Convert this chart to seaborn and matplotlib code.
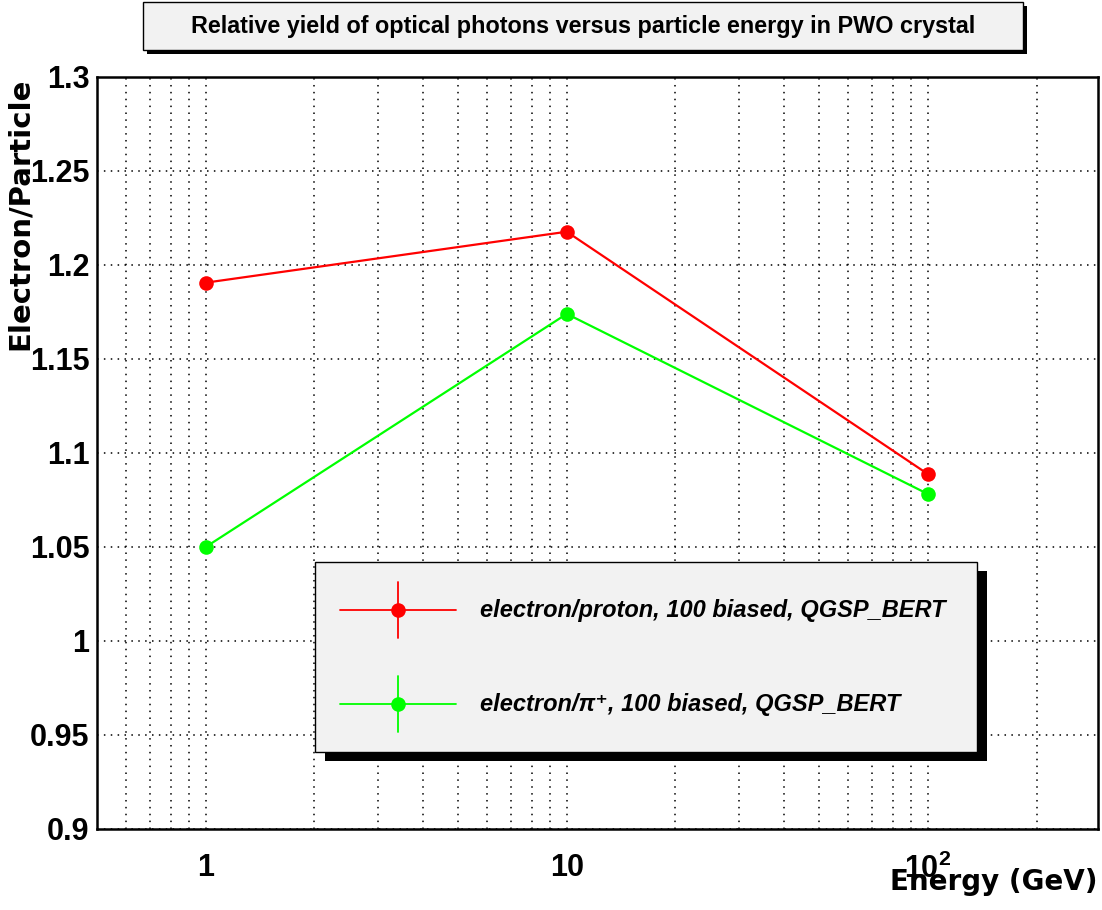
import numpy as np
import pandas as pd
import matplotlib
matplotlib.use("Agg")
import matplotlib.pyplot as plt
import matplotlib.ticker as mticker
from matplotlib.patches import Rectangle
from matplotlib.lines import Line2D
import seaborn as sns

# ---------------- data ----------------
energy_gev = [1, 10, 100]
ratio_e_proton = [1.1906, 1.2177, 1.0888]
ratio_e_pion = [1.0500, 1.1740, 1.0782]
series_names = ["electron/proton, 100 biased, QGSP_BERT",
                "electron/π⁺, 100 biased, QGSP_BERT"]
series_colors = ["#ff0000", "#00ff00"]
x_major_ticks = [1, 10, 100]
x_tick_labels = ["1", "10", "10$^{2}$"]
y_major_ticks = [0.9, 0.95, 1.0, 1.05, 1.1, 1.15, 1.2, 1.25, 1.3]
y_tick_labels = ["0.9", "0.95", "1", "1.05", "1.1", "1.15", "1.2", "1.25", "1.3"]
title_text = "Relative yield of optical photons versus particle energy in PWO crystal"
x_label = "Energy (GeV)"
y_label = "Electron/Particle"

df = pd.DataFrame({
    "energy": energy_gev * 2,
    "ratio": ratio_e_proton + ratio_e_pion,
    "series": [series_names[0]] * 3 + [series_names[1]] * 3,
})

# ---------------- style ----------------
sns.set_theme(style="white")
plt.rcParams["font.family"] = ["Liberation Sans", "DejaVu Sans"]
plt.rcParams["text.color"] = "black"
plt.rcParams["axes.labelcolor"] = "black"
plt.rcParams["xtick.color"] = "black"
plt.rcParams["ytick.color"] = "black"
plt.rcParams["mathtext.fontset"] = "custom"
plt.rcParams["mathtext.rm"] = "Liberation Sans:bold"
plt.rcParams["mathtext.bf"] = "Liberation Sans:bold"
plt.rcParams["mathtext.it"] = "Liberation Sans:bold:italic"

W, H = 1102, 910
fig = plt.figure(figsize=(W / 100, H / 100), dpi=100)
fig.patch.set_facecolor("white")

def fx(px):
    return px / W

def fy(py):
    return 1 - py / H

ax_l, ax_r, ax_t, ax_b = 97, 1098, 77, 829
ax = fig.add_axes([fx(ax_l), fy(ax_b), fx(ax_r - ax_l), (ax_b - ax_t) / H])
ax.set_facecolor("white")
ax.set_xscale("log")

sns.lineplot(data=df, x="energy", y="ratio", hue="series",
             palette=dict(zip(series_names, series_colors)),
             marker="o", markersize=10.5, markeredgewidth=0,
             linewidth=1.6, legend=False, ax=ax, zorder=3)

ax.set_xlim(0.5, 296)
ax.set_ylim(0.9, 1.3)

# ticks
ax.xaxis.set_major_locator(mticker.FixedLocator(x_major_ticks))
ax.xaxis.set_major_formatter(mticker.FixedFormatter(x_tick_labels))
ax.xaxis.set_minor_locator(mticker.LogLocator(base=10, subs=np.arange(2, 10), numticks=20))
ax.xaxis.set_minor_formatter(mticker.NullFormatter())
ax.yaxis.set_major_locator(mticker.FixedLocator(y_major_ticks))
ax.yaxis.set_major_formatter(mticker.FixedFormatter(y_tick_labels))
ax.yaxis.set_minor_locator(mticker.MultipleLocator(0.01))

ax.tick_params(axis="y", which="major", direction="in", length=20.5, width=1.1,
               pad=5.5, labelsize=22, colors="black")
ax.tick_params(axis="y", which="minor", direction="in", length=10.8, width=1.1,
               colors="black")
ax.tick_params(axis="x", which="major", direction="in", length=16.5, width=1.1,
               pad=17.5, labelsize=22, colors="black")
ax.tick_params(axis="x", which="minor", direction="in", length=8.3, width=1.1,
               colors="black")
for lab in ax.get_xticklabels() + ax.get_yticklabels():
    lab.set_fontweight("bold")
    lab.set_color("black")

ax.grid(which="both", axis="x", color="black", linestyle=(0, (1, 3.5)), linewidth=1.1)
ax.grid(which="major", axis="y", color="black", linestyle=(0, (1, 3.5)), linewidth=1.1)
ax.set_axisbelow(True)

for s in ax.spines.values():
    s.set_color("black")
    s.set_linewidth(1.8)
    s.set_visible(True)

ax.set_xlabel("")
ax.set_ylabel("")

# axis titles
fig.text(fx(1098), fy(890), x_label, ha="right", va="baseline", color="black",
         fontsize=20, fontweight="bold", family="DejaVu Sans")
fig.text(fx(6), fy(78), y_label, ha="left", va="top", rotation=90, color="black",
         fontsize=21, fontweight="bold", family="DejaVu Sans")

# title box with shadow
tb_l, tb_t, tb_r, tb_b = 143, 2, 1023, 50
fig.patches.append(Rectangle((fx(tb_l + 4), fy(tb_b + 4)), fx(tb_r - tb_l), (tb_b - tb_t) / H,
                             transform=fig.transFigure, facecolor="black",
                             edgecolor="none", zorder=5))
fig.patches.append(Rectangle((fx(tb_l), fy(tb_b)), fx(tb_r - tb_l), (tb_b - tb_t) / H,
                             transform=fig.transFigure, facecolor="#f2f2f2",
                             edgecolor="black", linewidth=1.0, zorder=6))
fig.text(fx((tb_l + tb_r) / 2), fy(26), title_text, ha="center", va="center",
         color="black", fontsize=16.8, fontweight="bold", zorder=7)

# legend box with shadow
lb_l, lb_t, lb_r, lb_b = 315, 562, 977, 752
fig.patches.append(Rectangle((fx(lb_l + 10), fy(lb_b + 9)), fx(lb_r - lb_l), (lb_b - lb_t) / H,
                             transform=fig.transFigure, facecolor="black",
                             edgecolor="none", zorder=5))
fig.patches.append(Rectangle((fx(lb_l), fy(lb_b)), fx(lb_r - lb_l), (lb_b - lb_t) / H,
                             transform=fig.transFigure, facecolor="#f2f2f2",
                             edgecolor="black", linewidth=1.0, zorder=6))
for name, col, yc in zip(series_names, series_colors, [610, 704]):
    fig.lines.append(Line2D([fx(340), fx(456)], [fy(yc), fy(yc)], transform=fig.transFigure,
                            color=col, linewidth=1.3, zorder=7))
    fig.lines.append(Line2D([fx(398), fx(398)], [fy(yc - 28), fy(yc + 28)], transform=fig.transFigure,
                            color=col, linewidth=1.3, zorder=7))
    fig.lines.append(Line2D([fx(398)], [fy(yc)], transform=fig.transFigure, color=col,
                            marker="o", markersize=10.5, markeredgewidth=0, zorder=8))
    fig.text(fx(480), fy(yc), name, ha="left", va="center", fontsize=17, color="black",
             fontweight="bold", fontstyle="italic",
             family=["Liberation Sans", "DejaVu Sans"], zorder=8)

fig.savefig("out.png", dpi=100)
